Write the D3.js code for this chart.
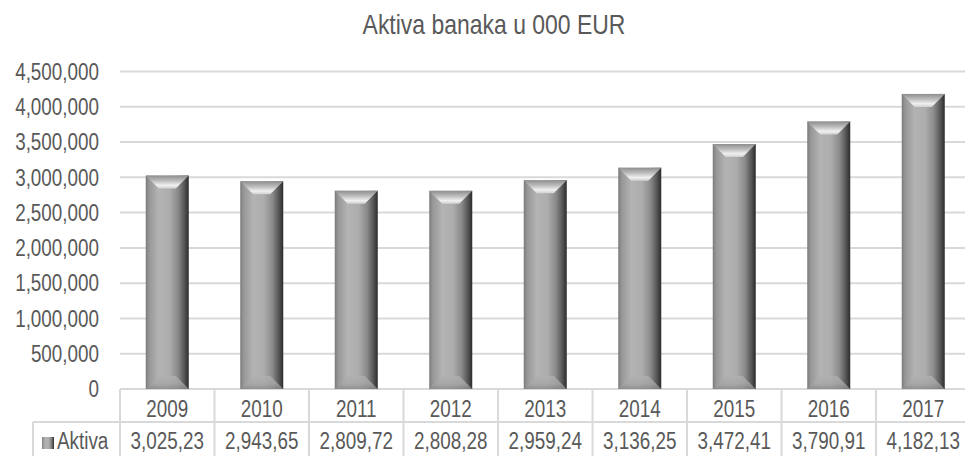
<!DOCTYPE html>
<html>
<head>
<meta charset="utf-8">
<script src="https://cdn.jsdelivr.net/npm/d3@7"></script>
<style>
  body { margin: 0; background: #fff; }
  svg { display: block; font-family: "Liberation Sans", Arial, sans-serif; }
</style>
</head>
<body>
<div id="wrapper"></div>
<script>
// data
const years = ["2009", "2010", "2011", "2012", "2013", "2014", "2015", "2016", "2017"]
const aktiva = [3025230, 2943650, 2809720, 2808280, 2959240, 3136250, 3472410, 3790910, 4182130]
const aktivaLabels = ["3,025,23", "2,943,65", "2,809,72", "2,808,28", "2,959,24", "3,136,25", "3,472,41", "3,790,91", "4,182,13"]
const yTicks = [0, 500000, 1000000, 1500000, 2000000, 2500000, 3000000, 3500000, 4000000, 4500000]
const seriesName = "Aktiva"
const title = "Aktiva banaka u 000 EUR"

function drawChart() {
  // 1. dimensions
  let dimensions = {
    width: 965,
    height: 456,
    plotLeft: 120,
    plotRight: 970.5,
    plotTop: 71.5,
    plotBottom: 389,
    rowSplit: 422,
    tableLeft: 33,
  }

  const textColor = "#595959"
  const lineColor = "#d9d9d9"
  const narrow = 0.82 // squeeze regular sans into an "Arial Narrow" look

  const place = (x, y) => `translate(${x},${y}) scale(${narrow},1)`

  // 2. scales
  const xScale = d3.scaleBand()
    .domain(years)
    .range([dimensions.plotLeft, dimensions.plotRight])
    .paddingInner(0.545)
    .paddingOuter(0.2725)

  const yScale = d3.scaleLinear()
    .domain([0, 4500000])
    .range([dimensions.plotBottom, dimensions.plotTop])

  const cellLeft = d => xScale(d) - xScale.step() * xScale.paddingOuter()
  const mid = d => xScale(d) + xScale.bandwidth() / 2

  // 3. canvas
  const wrapper = d3.select("#wrapper")
    .append("svg")
      .attr("width", dimensions.width)
      .attr("height", dimensions.height)

  const defs = wrapper.append("defs")

  const bodyGrad = defs.append("linearGradient").attr("id", "body")
    .attr("x1", 0).attr("x2", 1).attr("y1", 0).attr("y2", 0)
  ;[[0, "#7a7a7a"], [0.08, "#979797"], [0.3, "#b3b3b3"], [0.55, "#adadad"], [0.75, "#8a8a8a"], [0.9, "#555"], [1, "#2b2b2b"]]
    .forEach(s => bodyGrad.append("stop").attr("offset", s[0]).attr("stop-color", s[1]))

  const topGrad = defs.append("linearGradient").attr("id", "bevelTop")
    .attr("x1", 0).attr("x2", 0).attr("y1", 0).attr("y2", 1)
  ;[[0, "#8e8e8e"], [0.4, "#bcbcbc"], [0.75, "#f0f0f0"], [1, "#d0d0d0"]]
    .forEach(s => topGrad.append("stop").attr("offset", s[0]).attr("stop-color", s[1]))

  const botGrad = defs.append("linearGradient").attr("id", "bevelBot")
    .attr("x1", 0).attr("x2", 0).attr("y1", 0).attr("y2", 1)
  ;[[0, "#b0b0b0"], [0.6, "#a6a6a6"], [1, "#8a8a8a"]]
    .forEach(s => botGrad.append("stop").attr("offset", s[0]).attr("stop-color", s[1]))

  // title
  wrapper.append("text")
    .attr("transform", place(494, 34))
    .attr("text-anchor", "middle")
    .attr("fill", textColor)
    .style("font-size", "28px")
    .text(title)

  // gridlines + y labels
  wrapper.append("g").selectAll("line")
    .data(yTicks)
    .join("line")
      .attr("x1", dimensions.plotLeft)
      .attr("x2", dimensions.plotRight)
      .attr("y1", d => yScale(d))
      .attr("y2", d => yScale(d))
      .attr("stroke", lineColor)
      .attr("stroke-width", 2)

  wrapper.append("g").selectAll("text")
    .data(yTicks)
    .join("text")
      .attr("transform", d => place(99, yScale(d)))
      .attr("dy", "0.36em")
      .attr("text-anchor", "end")
      .attr("fill", textColor)
      .style("font-size", "23px")
      .text(d => d3.format(",")(d))

  // bars with bevelled top and bottom
  const bevel = 13
  const bars = wrapper.append("g").selectAll("g")
    .data(years.map((y, i) => ({ year: y, value: aktiva[i] })))
    .join("g")

  bars.append("rect")
    .attr("x", d => xScale(d.year))
    .attr("y", d => yScale(d.value))
    .attr("width", xScale.bandwidth())
    .attr("height", d => yScale(0) - yScale(d.value))
    .attr("fill", "url(#body)")

  bars.append("polygon")
    .attr("points", d => {
      const x0 = xScale(d.year), x1 = x0 + xScale.bandwidth(), y0 = yScale(d.value)
      return [[x0, y0], [x1, y0], [x1 - bevel, y0 + bevel], [x0 + bevel, y0 + bevel]].join(" ")
    })
    .attr("fill", "url(#bevelTop)")

  bars.append("polygon")
    .attr("points", d => {
      const x0 = xScale(d.year), x1 = x0 + xScale.bandwidth(), y0 = yScale(0)
      return [[x0 + bevel, y0 - bevel], [x1 - bevel, y0 - bevel], [x1, y0], [x0, y0]].join(" ")
    })
    .attr("fill", "url(#bevelBot)")
    .attr("opacity", 0.8)

  // data table
  const table = wrapper.append("g")
  table.selectAll("line.v")
    .data(years)
    .join("line")
      .attr("x1", d => cellLeft(d))
      .attr("x2", d => cellLeft(d))
      .attr("y1", dimensions.plotBottom)
      .attr("y2", dimensions.height)
      .attr("stroke", lineColor)
      .attr("stroke-width", 2)

  table.append("line")
    .attr("x1", dimensions.tableLeft).attr("x2", dimensions.plotRight)
    .attr("y1", dimensions.rowSplit).attr("y2", dimensions.rowSplit)
    .attr("stroke", lineColor).attr("stroke-width", 2)

  table.append("line")
    .attr("x1", dimensions.tableLeft).attr("x2", dimensions.tableLeft)
    .attr("y1", dimensions.rowSplit).attr("y2", dimensions.height)
    .attr("stroke", lineColor).attr("stroke-width", 2)

  table.selectAll("text.year")
    .data(years)
    .join("text")
      .attr("transform", d => place(mid(d), 417))
      .attr("text-anchor", "middle")
      .attr("fill", textColor)
      .style("font-size", "23px")
      .text(d => d)

  table.selectAll("text.val")
    .data(aktivaLabels)
    .join("text")
      .attr("transform", (d, i) => place(mid(years[i]), 449))
      .attr("text-anchor", "middle")
      .attr("fill", textColor)
      .style("font-size", "23px")
      .text(d => d)

  // legend key in the row header
  table.append("rect")
    .attr("x", 42).attr("y", 437)
    .attr("width", 12).attr("height", 12)
    .attr("fill", "url(#body)")
  table.append("text")
    .attr("transform", place(57, 449))
    .attr("fill", textColor)
    .style("font-size", "23px")
    .text(seriesName)
}

drawChart()
</script>
</body>
</html>
